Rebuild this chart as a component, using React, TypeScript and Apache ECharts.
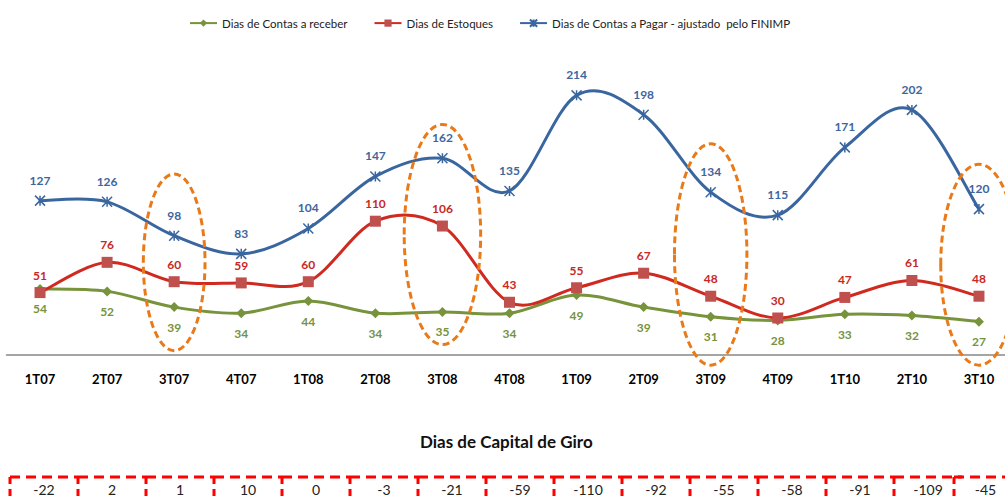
import React, { useEffect, useRef } from "react";
import * as echarts from "echarts";

const categories = ["1T07", "2T07", "3T07", "4T07", "1T08", "2T08", "3T08", "4T08", "1T09", "2T09", "3T09", "4T09", "1T10", "2T10", "3T10"];
const diasReceber = [54, 52, 39, 34, 44, 34, 35, 34, 49, 39, 31, 28, 33, 32, 27];
const diasEstoques = [51, 76, 60, 59, 60, 110, 106, 43, 55, 67, 48, 30, 47, 61, 48];
const diasPagar = [127, 126, 98, 83, 104, 147, 162, 135, 214, 198, 134, 115, 171, 202, 120];
const capitalGiro = [-22, 2, 1, 10, 0, -3, -21, -59, -110, -92, -55, -58, -91, -109, -45];

// highlighted quarters: [category index, low value, high value, half-width as fraction of band]
const highlights = [
  [2, 3, 149, 0.46],
  [6, 8, 190, 0.57],
  [10, -9, 174, 0.54],
  [14, -9, 157, 0.57],
];

const seriesNames = [
  "Dias de Contas a receber",
  "Dias de Estoques",
  "Dias de Contas a Pagar - ajustado  pelo FINIMP",
];
const tableTitle = "Dias de Capital de Giro";

const FONT = "Lato, 'Liberation Sans', sans-serif";
const GREEN = "#77933C";
const RED_LINE = "#D02A20";
const RED_MARK = "#C0504D";
const BLUE = "#3A66A0";
const ORANGE = "#E97A1A";

const starPath = "path://M0,0L10,10M10,0L0,10M5,0L5,10";

// Excel-like smoothed curve (Catmull-Rom Bezier segments) drawn through the axes
function curveSeries(vals: number[], color: string, z: number) {
  return {
    type: "custom",
    xAxisIndex: 0,
    yAxisIndex: 0,
    silent: true,
    z,
    data: vals.slice(0, -1).map((v, i) => [i, v]),
    encode: { x: 0, y: 1 },
    renderItem: (params: any, api: any) => {
      const i = api.value(0);
      const n = vals.length;
      const P = (j: number) => {
        const k = Math.max(0, Math.min(n - 1, j));
        return api.coord([k, vals[k]]);
      };
      const p0 = P(i - 1);
      const p1 = P(i);
      const p2 = P(i + 1);
      const p3 = P(i + 2);
      const t = 1 / 6;
      return {
        type: "bezierCurve",
        shape: {
          x1: p1[0],
          y1: p1[1],
          x2: p2[0],
          y2: p2[1],
          cpx1: p1[0] + (p2[0] - p0[0]) * t,
          cpy1: p1[1] + (p2[1] - p0[1]) * t,
          cpx2: p2[0] - (p3[0] - p1[0]) * t,
          cpy2: p2[1] - (p3[1] - p1[1]) * t,
        },
        style: { fill: "none", stroke: color, lineWidth: 3, lineCap: "round" },
      };
    },
  };
}

export default function App() {
  const ref = useRef<HTMLDivElement>(null);
  useEffect(() => {
    if (!ref.current) return;
    const chart = echarts.init(ref.current, undefined, { renderer: "svg" });
    const labelBase = { show: true, fontFamily: FONT, fontWeight: "bold" as const, fontSize: 12 };
    chart.setOption({
      animation: false,
      backgroundColor: "#fff",
      title: {
        text: tableTitle,
        left: 415,
        top: 428,
        textStyle: { fontFamily: FONT, fontWeight: "bold", fontSize: 17, color: "#111" },
      },
      legend: {
        top: 12,
        left: 184,
        itemWidth: 27,
        itemHeight: 9,
        itemGap: 26,
        textStyle: { fontFamily: FONT, fontSize: 11.5, color: "#222" },
        data: [
          { name: seriesNames[0], lineStyle: { opacity: 1, color: GREEN, width: 2 } },
          { name: seriesNames[1], lineStyle: { opacity: 1, color: RED_LINE, width: 2 } },
          { name: seriesNames[2], lineStyle: { opacity: 1, color: BLUE, width: 2 } },
        ],
      },
      grid: [
        { left: 6.5, width: 1006, top: 51.8, bottom: 142.7, outerBoundsMode: "none", containLabel: false },
        { left: 10, width: 1020, top: 477, height: 40, outerBoundsMode: "none", containLabel: false },
      ],
      xAxis: [
        {
          type: "category",
          data: categories,
          gridIndex: 0,
          boundaryGap: true,
          axisLine: { lineStyle: { color: "#878787", width: 1.5 } },
          axisTick: { show: false },
          axisLabel: { fontFamily: FONT, fontWeight: "bold", fontSize: 13, color: "#000", margin: 18 },
        },
        {
          type: "category",
          data: categories,
          gridIndex: 1,
          show: false,
        },
      ],
      yAxis: [
        { type: "value", min: 0, max: 250, gridIndex: 0, show: false, splitLine: { show: false } },
        { type: "value", min: 0, max: 1, gridIndex: 1, show: false, splitLine: { show: false } },
      ],
      series: [
        curveSeries(diasReceber, GREEN, 2),
        curveSeries(diasEstoques, RED_LINE, 2),
        curveSeries(diasPagar, BLUE, 2),
        {
          name: seriesNames[0],
          type: "line",
          data: diasReceber,
          symbol: "diamond",
          symbolSize: 10,
          lineStyle: { color: GREEN, width: 3, opacity: 0 },
          itemStyle: { color: GREEN },
          label: { ...labelBase, position: "bottom", distance: 9, color: GREEN },
          z: 3,
        },
        {
          name: seriesNames[1],
          type: "line",
          data: diasEstoques,
          symbol: "rect",
          symbolSize: 11,
          lineStyle: { color: RED_LINE, width: 3, opacity: 0 },
          itemStyle: { color: RED_MARK },
          label: { ...labelBase, position: "top", distance: 6, color: "#C8281F" },
          z: 4,
        },
        {
          name: seriesNames[2],
          type: "line",
          data: diasPagar,
          symbol: starPath,
          symbolSize: 10,
          showAllSymbol: true,
          lineStyle: { color: BLUE, width: 3, opacity: 0 },
          itemStyle: { color: "none", borderColor: BLUE, borderWidth: 1.5 },
          label: { ...labelBase, position: "top", distance: 7, color: "#3E659E" },
          z: 5,
        },
        {
          type: "custom",
          xAxisIndex: 0,
          yAxisIndex: 0,
          silent: true,
          clip: false,
          z: 6,
          data: highlights,
          encode: { x: 0, y: [1, 2] },
          renderItem: (params: any, api: any) => {
            const idx = api.value(0);
            const hi = api.coord([idx, api.value(2)]);
            const lo = api.coord([idx, api.value(1)]);
            const band = api.size([1, 0])[0];
            return {
              type: "ellipse",
              shape: {
                cx: hi[0],
                cy: (hi[1] + lo[1]) / 2,
                rx: band * api.value(3),
                ry: Math.abs(lo[1] - hi[1]) / 2,
              },
              style: { fill: "none", stroke: ORANGE, lineWidth: 3, lineDash: [7, 4] },
            };
          },
        },
        {
          type: "custom",
          xAxisIndex: 1,
          yAxisIndex: 1,
          silent: true,
          clip: false,
          data: capitalGiro.map((v, i) => [i, v]),
          encode: { x: 0, y: -1 },
          renderItem: (params: any, api: any) => {
            const idx = api.value(0);
            const pt = api.coord([idx, 1]);
            const band = api.size([1, 0])[0];
            const viewW = api.getWidth();
            const isLast = idx === capitalGiro.length - 1;
            // the last cell is narrower and ends at the right edge of the page
            const x0 = isLast ? pt[0] - band / 2 - 8 : pt[0] - band / 2;
            const x1 = isLast ? viewW + 5 : x0 + band;
            const cx = isLast ? Math.min(pt[0], (x0 + viewW + 12) / 2) : pt[0];
            const top = pt[1];
            return {
              type: "group",
              children: [
                {
                  type: "line",
                  shape: { x1: x0, y1: top, x2: x1, y2: top },
                  style: { stroke: "#FF0000", lineWidth: 3, lineDash: [10, 6] },
                },
                {
                  type: "line",
                  shape: { x1: x0, y1: top, x2: x0, y2: top + 30 },
                  style: { stroke: "#FF0000", lineWidth: 3, lineDash: [7, 5] },
                },
                {
                  type: "text",
                  style: {
                    x: cx,
                    y: top + 12,
                    text: String(api.value(1)),
                    textAlign: "center",
                    textVerticalAlign: "middle",
                    fontFamily: FONT,
                    fontSize: 14,
                    fill: "#222",
                  },
                },
              ],
            };
          },
        },
      ],
    });
    return () => chart.dispose();
  }, []);
  return (
    <div
      ref={ref}
      style={{ position: "fixed", left: 0, top: 0, width: 1005, height: 497, background: "#fff" }}
    />
  );
}
